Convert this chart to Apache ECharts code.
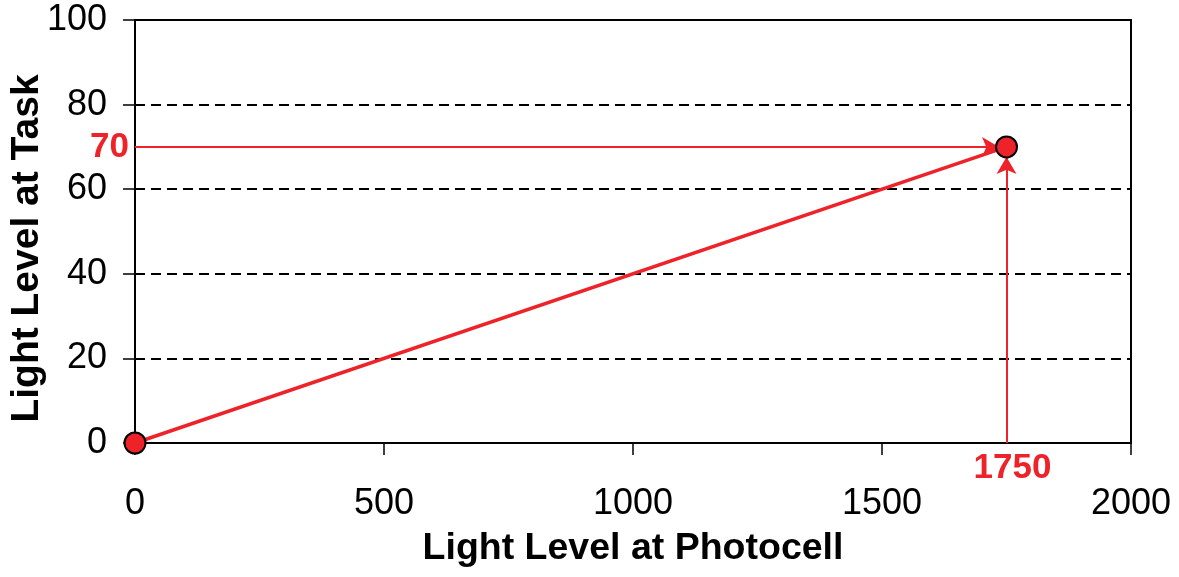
<!DOCTYPE html>
<html>
<head>
<meta charset="utf-8">
<script src="https://cdn.jsdelivr.net/npm/echarts@6/dist/echarts.min.js"></script>
<style>
  html, body { margin: 0; padding: 0; background: #fff; }
  #chart { width: 1179px; height: 577px; }
</style>
</head>
<body>
<div id="chart"></div>
<script>
// ---- data ----
const xTicks = [0, 500, 1000, 1500, 2000];
const yTicks = [0, 20, 40, 60, 80, 100];
const photocell = [0, 1750];        // x values
const task = [0, 70];               // y values
const readX = 1750;                 // annotated photocell reading
const readY = 70;                   // annotated task reading

const RED = '#ee2229';
const FONT = '"Liberation Sans", Arial, Helvetica, sans-serif';

const points = photocell.map((x, i) => [x, task[i]]);

const chart = echarts.init(document.getElementById('chart'), null, { renderer: 'canvas' });
chart.setOption({
  animation: false,
  backgroundColor: '#fff',
  grid: {
    left: 135, right: 48, top: 20, bottom: 134,
    containLabel: false,
    outerBoundsMode: 'none',
    show: true, borderColor: '#000', borderWidth: 2, backgroundColor: 'transparent'
  },
  xAxis: {
    type: 'value',
    min: xTicks[0], max: xTicks[xTicks.length - 1], interval: 500,
    name: 'Light Level at Photocell',
    nameLocation: 'middle',
    nameGap: 87,
    nameTextStyle: { fontFamily: FONT, fontWeight: 'bold', fontSize: 37.5, color: '#000' },
    axisLine: { show: true, lineStyle: { color: '#000', width: 2 } },
    axisTick: { show: true, inside: false, length: 12, lineStyle: { color: '#000', width: 1.5 } },
    axisLabel: { fontFamily: FONT, fontSize: 36, color: '#000', margin: 43, formatter: v => String(v) },
    splitLine: { show: false }
  },
  yAxis: {
    type: 'value',
    min: yTicks[0], max: yTicks[yTicks.length - 1], interval: 20,
    name: 'Light Level at Task',
    nameLocation: 'middle',
    nameGap: 88,
    nameMoveOverlap: false,
    nameRotate: 90,
    nameTextStyle: { fontFamily: FONT, fontWeight: 'bold', fontSize: 39, color: '#000', padding: [0, 34, 0, 0] },
    axisLine: { show: true, lineStyle: { color: '#000', width: 2 } },
    axisTick: { show: true, inside: false, length: 12, lineStyle: { color: '#000', width: 1.5 } },
    axisLabel: { fontFamily: FONT, fontSize: 36, color: '#000', margin: 28, formatter: v => String(v) },
    splitLine: { show: true, lineStyle: { color: '#000', width: 2, type: [10, 6] } }
  },
  series: [{
    type: 'line',
    data: points,
    lineStyle: { color: RED, width: 3.5 },
    symbol: 'circle',
    symbolSize: 21,
    itemStyle: { color: RED, borderColor: '#000', borderWidth: 2 },
    z: 5,
    markLine: {
      silent: true,
      animation: false,
      symbol: ['none', 'arrow'],
      symbolSize: [15, 17],
      lineStyle: { color: RED, width: 2, type: 'solid' },
      label: {
        show: true, position: 'start',
        fontFamily: FONT, fontWeight: 'bold', fontSize: 35, color: RED
      },
      data: [
        [
          { coord: [0, readY], label: { formatter: String(readY), padding: [12, 0, 0, 0], distance: 6 } },
          { coord: [readX - 15, readY] }
        ],
        [
          { coord: [readX, 0], label: { formatter: String(readX), padding: [0, 0, 0, 12], distance: 8 } },
          { coord: [readX, readY - 2.4] }
        ]
      ]
    }
  }]
});
</script>
</body>
</html>
